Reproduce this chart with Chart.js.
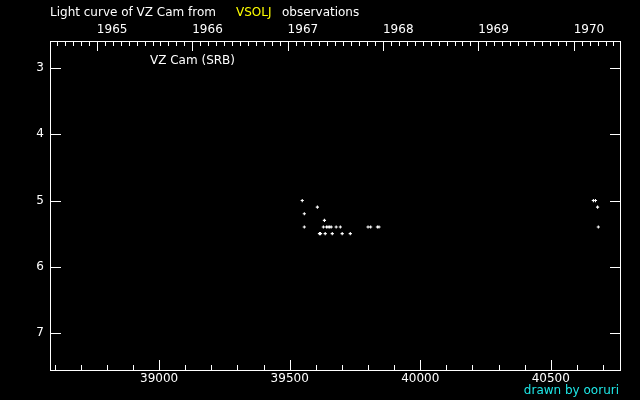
<!DOCTYPE html>
<html>
<head>
<meta charset="utf-8">
<script src="https://cdn.jsdelivr.net/npm/chart.js"></script>
<style>
  html, body { margin: 0; padding: 0; background: #000; }
  #wrap { width: 640px; height: 400px; }
</style>
</head>
<body>
<div id="wrap"><canvas id="lc" width="640" height="400"></canvas></div>
<script>
// observations: JD - 2400000 and visual magnitude
const jd = [39548, 39556, 39556, 39606, 39614, 39618, 39629, 39633, 39636, 39641,
            39647, 39653, 39659, 39663, 39678, 39694, 39701, 39732, 39800, 39810,
            39836, 39842, 40663, 40671, 40679, 40682];
const mag = [5.0, 5.2, 5.4, 5.1, 5.5, 5.5, 5.4, 5.3, 5.5, 5.4,
             5.4, 5.4, 5.4, 5.5, 5.4, 5.4, 5.5, 5.5, 5.4, 5.4,
             5.4, 5.4, 5.0, 5.0, 5.1, 5.4];

const jdRange = [38582, 40765];
const magRange = [2.59, 7.56];
const jdTicks = [39000, 39500, 40000, 40500];
const magTicks = [3, 4, 5, 6, 7];
const yearTicks = [1965, 1966, 1967, 1968, 1969, 1970];

// JD 2438761.5 = 1965 Jan 1
const toYear = (d) => 1965 + (d - 38761.5) / 365.25;

const FONT = '"DejaVu Sans", sans-serif';
const WHITE = '#ffffff';

const frame = {
  id: 'frame',
  beforeDraw(chart) {
    const c = chart.ctx;
    c.save();
    c.fillStyle = '#000';
    c.fillRect(0, 0, chart.width, chart.height);
    c.restore();
  },
  afterDraw(chart) {
    const c = chart.ctx;
    const a = chart.chartArea;
    const x = chart.scales.x, xt = chart.scales.xTop, y = chart.scales.y;
    c.save();
    c.strokeStyle = WHITE;
    c.lineWidth = 1;
    c.strokeRect(a.left + 0.5, a.top + 0.5, a.right - a.left, a.bottom - a.top);

    c.beginPath();
    // bottom: every 100 days, long at 500
    for (let v = Math.ceil(jdRange[0] / 100) * 100; v <= jdRange[1]; v += 100) {
      const px = Math.round(x.getPixelForValue(v)) + 0.5;
      const len = v % 500 === 0 ? 10 : 5;
      c.moveTo(px, a.bottom);
      c.lineTo(px, a.bottom - len);
    }
    // top: months, long at new year
    for (let yr = 1964; yr <= 1970; yr++) {
      for (let m = 0; m < 12; m++) {
        const v = yr + m / 12;
        if (v <= xt.min || v >= xt.max) continue;
        const px = Math.round(xt.getPixelForValue(v)) + 0.5;
        const len = m === 0 ? 9 : 4;
        c.moveTo(px, a.top + 1);
        c.lineTo(px, a.top + 1 + len);
      }
    }
    // left and right: each magnitude
    magTicks.forEach((v) => {
      const py = Math.round(y.getPixelForValue(v)) + 0.5;
      c.moveTo(a.left + 1, py);
      c.lineTo(a.left + 11, py);
      c.moveTo(a.right, py);
      c.lineTo(a.right - 10, py);
    });
    c.stroke();

    c.font = '12px ' + FONT;
    c.textBaseline = 'middle';
    c.textAlign = 'left';
    c.fillStyle = WHITE;
    c.fillText('Light curve of VZ Cam from', 50, 13);
    c.fillStyle = '#ffff00';
    c.fillText('VSOLJ', 236, 13);
    c.fillStyle = WHITE;
    c.fillText('observations', 282, 13);
    c.fillText('VZ Cam (SRB)', 150, 61);
    c.fillStyle = '#1ee6e6';
    c.textAlign = 'right';
    c.fillText('drawn by ooruri', 619, 391);
    c.restore();
  }
};

const tickFont = { family: FONT, size: 12 };

new Chart(document.getElementById('lc'), {
  type: 'scatter',
  data: {
    datasets: [{
      data: jd.map((d, i) => ({ x: d, y: mag[i] })),
      pointStyle: 'cross',
      pointRadius: 1.6,
      pointBorderWidth: 1.1,
      borderColor: WHITE,
      backgroundColor: WHITE,
      pointHoverRadius: 1.6
    }]
  },
  options: {
    responsive: false,
    animation: false,
    events: [],
    layout: { padding: { left: 0, right: 20, top: 0, bottom: 0 } },
    plugins: { legend: { display: false }, tooltip: { enabled: false }, title: { display: false } },
    scales: {
      x: {
        type: 'linear',
        position: 'bottom',
        min: jdRange[0],
        max: jdRange[1],
        grid: { display: false, drawTicks: false },
        border: { display: false },
        afterBuildTicks: (s) => { s.ticks = jdTicks.map((v) => ({ value: v })); },
        ticks: {
          autoSkip: false,
          maxRotation: 0,
          padding: 2,
          color: WHITE,
          font: tickFont,
          callback: (v) => String(v)
        },
        afterFit: (s) => { s.height = 30; }
      },
      xTop: {
        type: 'linear',
        position: 'top',
        min: toYear(jdRange[0]),
        max: toYear(jdRange[1]),
        grid: { display: false, drawTicks: false },
        border: { display: false },
        afterBuildTicks: (s) => { s.ticks = yearTicks.map((v) => ({ value: v })); },
        ticks: {
          autoSkip: false,
          maxRotation: 0,
          align: 'start',
          padding: 4,
          color: WHITE,
          font: tickFont,
          callback: (v) => String(v)
        },
        afterFit: (s) => { s.height = 41; }
      },
      y: {
        type: 'linear',
        position: 'left',
        reverse: true,
        min: magRange[0],
        max: magRange[1],
        grid: { display: false, drawTicks: false },
        border: { display: false },
        afterBuildTicks: (s) => { s.ticks = magTicks.map((v) => ({ value: v })); },
        ticks: {
          padding: 6,
          color: WHITE,
          font: tickFont,
          callback: (v) => String(v)
        },
        afterFit: (s) => { s.width = 50; }
      }
    }
  },
  plugins: [frame]
});
</script>
</body>
</html>
